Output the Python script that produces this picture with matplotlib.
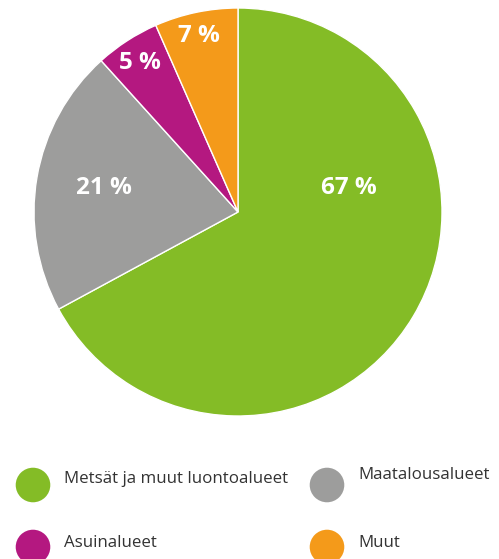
import matplotlib
matplotlib.use("Agg")
import matplotlib.pyplot as plt

categories = ["Metsät ja muut luontoalueet", "Maatalousalueet", "Asuinalueet", "Muut"]
values = [67.1, 21.2, 5.1, 6.6]
labels = ["67 %", "21 %", "5 %", "7 %"]
colors = ["#84BC26", "#9D9D9C", "#B41880", "#F49A1A"]

W, H = 499, 559
fig = plt.figure(figsize=(W / 100, H / 100), dpi=100)
ax = fig.add_axes([0, 0, 1, 1])

cx, cy, r = 238, H - 212, 204
ax.pie(values, colors=colors, startangle=90, counterclock=False,
       center=(cx, cy), radius=r, frame=True,
       wedgeprops=dict(edgecolor="white", linewidth=1))
ax.set_xlim(0, W)
ax.set_ylim(0, H)
ax.set_aspect("equal")
ax.axis("off")

# label offsets relative to pie centre (pixels)
offsets = [(111, 24), (-134, 24), (-98, 149), (-39, 176)]
for lab, (dx, dy) in zip(labels, offsets):
    ax.text(cx + dx, cy + dy, lab, color="white", fontsize=17.5,
            fontweight="bold", family="Open Sans", ha="center", va="center")

# legend
leg_pos = [(33, 485, 64, 479), (327, 485, 358, 475), (33, 547, 64, 543), (327, 547, 358, 543)]
for (mx, my, tx, ty), cat, col in zip(leg_pos, categories, colors):
    ax.scatter([mx], [H - my], s=620, color=col, edgecolors="none", clip_on=False)
    ax.text(tx, H - ty, cat, fontsize=12.2, family="Open Sans", color="#333333",
            ha="left", va="center")

fig.savefig("out.png", dpi=100)
